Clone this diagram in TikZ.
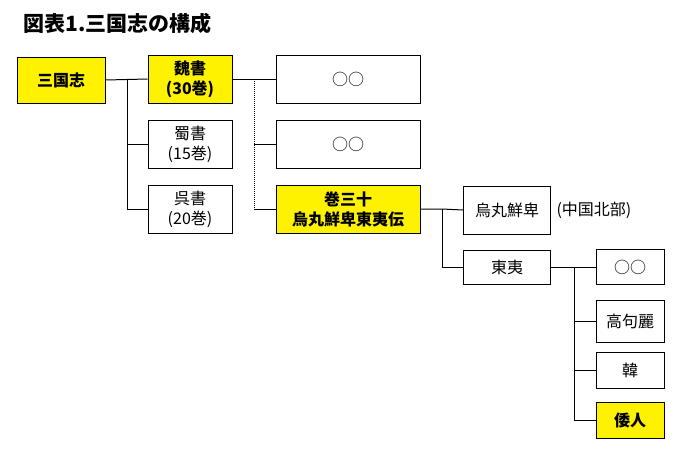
\documentclass[tikz,border=0pt]{standalone}
\usepackage{fontspec}
\setmainfont{Noto Sans CJK JP}
\begin{document}
\begin{tikzpicture}[x=1pt,y=-1pt,
  bx/.style={draw,line width=1pt,fill=white,font=\fontsize{16}{20}\selectfont,align=center,inner sep=0pt},
  yb/.style={bx,fill=yellow,font=\fontsize{16}{20}\selectfont\bfseries},
  ln/.style={line width=1pt}]
\useasboundingbox (0,0) rectangle (682,448);
\node[anchor=west,font=\fontsize{21}{24}\selectfont\bfseries] (title) at (20,23) {図表1.三国志の構成};
\node[yb,minimum width=88pt,minimum height=46pt] (sg) at (61,80) {三国志};
\node[yb,minimum width=84pt,minimum height=48pt] (gi) at (190,79) {魏書\\(30巻)};
\node[bx,minimum width=84pt,minimum height=48pt] (shoku) at (190,144) {蜀書\\(15巻)};
\node[bx,minimum width=84pt,minimum height=48pt] (go) at (190,209) {呉書\\(20巻)};
\node[bx,minimum width=144pt,minimum height=48pt] (o1) at (348,79) {○○};
\node[bx,minimum width=144pt,minimum height=48pt] (o2) at (348,144) {○○};
\node[yb,minimum width=144pt,minimum height=48pt] (k30) at (348,209) {巻三十\\烏丸鮮卑東夷伝};
\node[bx,minimum width=87pt,minimum height=48pt] (ug) at (507,210) {烏丸鮮卑};
\node[anchor=west,font=\fontsize{16}{20}\selectfont] (nb) at (553,210) {(中国北部)};
\node[bx,minimum width=87pt,minimum height=34pt] (ti) at (507,267) {東夷};
\node[bx,minimum width=68pt,minimum height=35pt] (o3) at (630,267) {○○};
\node[bx,minimum width=68pt,minimum height=42pt] (kk) at (630,321) {高句麗};
\node[bx,minimum width=68pt,minimum height=36pt] (kan) at (630,370) {韓};
\node[yb,minimum width=68pt,minimum height=36pt] (wa) at (630,420) {倭人};
\coordinate (j1) at (127,80);
\draw[ln] (sg.east) -- (gi.west);
\draw[ln] (j1) |- (shoku.west);
\draw[ln] (j1) |- (go.west);
\draw[ln] (gi.east) -- (o1.west);
\coordinate (j2) at (254,79);
\draw[ln,densely dotted] (j2) -- (254,209);
\draw[ln] (254,144) -- (o2.west);
\draw[ln] (254,209) -- (k30.west);
\coordinate (j3) at (442,209);
\draw[ln] (k30.east) -- (j3) -- (ug.west);
\draw[ln] (j3) |- (ti.west);
\coordinate (j4) at (574,267);
\draw[ln] (ti.east) -- (o3.west);
\draw[ln] (j4) |- (kk.west);
\draw[ln] (j4) |- (kan.west);
\draw[ln] (j4) |- (wa.west);
\end{tikzpicture}
\end{document}
